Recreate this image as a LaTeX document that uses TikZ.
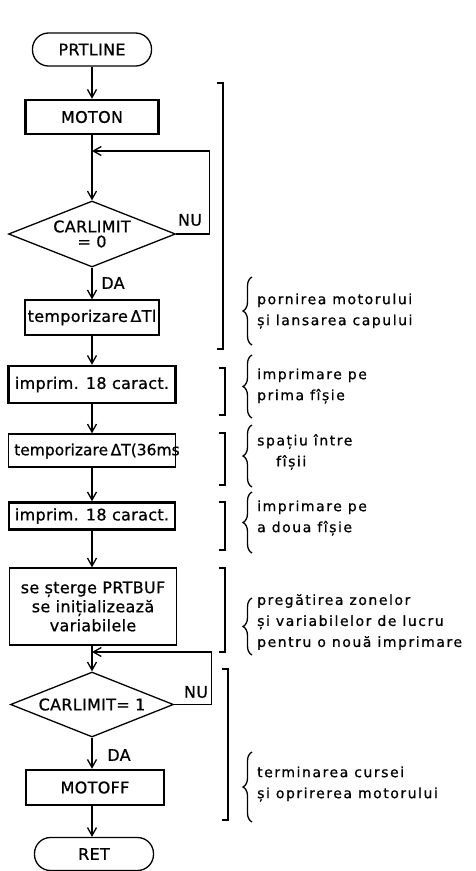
\documentclass[tikz,border=0pt]{standalone}
\usepackage{fontspec}
\setmainfont{DejaVu Sans}
\newfontfamily\boxfam[LetterSpace=2,FakeBold=0.8]{DejaVu Sans}
\newfontfamily\notefam[LetterSpace=11,FakeBold=0.8]{DejaVu Sans}
\newfontfamily\tightfam[FakeBold=0.8]{DejaVu Sans}
\usetikzlibrary{shapes.geometric,arrows.meta,decorations.pathreplacing}

\begin{document}
\begin{tikzpicture}[x=1pt,y=-1pt,
  every node/.style={inner sep=1pt},
  boxfont/.style={font=\boxfam\fontsize{16}{19}\selectfont},
  notefont/.style={font=\notefam\fontsize{14}{21}\selectfont},
  thinbox/.style={draw,line width=1.3pt,boxfont,align=center},
  thickbox/.style={draw,line width=2.5pt,boxfont,align=center},
  term/.style={draw,line width=1.3pt,rounded corners=16pt,boxfont,
    minimum width=119pt,minimum height=33pt},
  decision/.style={draw,diamond,aspect=2.5,line width=1.3pt,inner sep=0pt,
    boxfont,align=center},
  arr/.style={line width=1.3pt,-{Straight Barb[length=8pt,width=9pt,line width=1.3pt]}},
  bracket/.style={line width=2.4pt},
  curly/.style={line width=1.3pt,decorate,decoration={brace,amplitude=9pt}},
  note/.style={notefont,anchor=west,align=left}
]
\useasboundingbox (0,0) rectangle (476,871);

% ---------- flow chart ----------
\node[term] (prt) at (92,49.5) {PRTLINE};
\node[thickbox,minimum width=133pt,minimum height=34pt] (moton) at (92,117) {MOTON};
\coordinate (j1) at (92,151);
\node[decision,minimum width=167pt,minimum height=66pt] (d1) at (92,234) {CARLIMIT\\[-4pt]= 0};
\node[thinbox,minimum width=134pt,minimum height=35pt,inner sep=0pt] (t1) at (92,317.5) {temporizare\,ΔTl};
\node[thickbox,minimum width=167pt,minimum height=37pt] (im1) at (92,384.5) {imprim. 18 caract.};
\node[thinbox,minimum width=167pt,minimum height=33pt] (t2) at (92,450.5) {};
\node[font=\tightfam\fontsize{15.5}{19}\selectfont,anchor=west,inner sep=0pt] (t2txt) at (14,451)
  {temporizare\,ΔT(36ms};
\node[thickbox,minimum width=166pt,minimum height=27pt] (im2) at (92,516) {imprim. 18 caract.};
\node[thinbox,minimum width=167pt,minimum height=77pt] (ss) at (93,606.5)
  {se șterge PRTBUF\\se inițializează\\variabilele};
\coordinate (j2) at (92,652);
\node[decision,minimum width=163pt,minimum height=65pt] (d2) at (92,704.5) {CARLIMIT= 1};
\node[thickbox,minimum width=138pt,minimum height=35pt] (mo) at (95,787.5) {MOTOFF};
\node[term] (ret) at (94,854) {RET};

\draw[arr] (prt) -- (moton);
\draw[arr] (moton) -- (d1);
\draw[arr] (d1.east) -- ++(33,0) |- (j1);
\node[boxfont] (nu1) at (190,220) {NU};
\draw[arr] (d1) -- (t1);
\node[boxfont] (da1) at (113,283) {DA};
\draw[arr] (t1) -- (im1);
\draw[arr] (im1) -- (t2);
\draw[arr] (t2) -- (im2);
\draw[arr] (im2) -- (ss.north -| im2);
\draw[arr] (ss.south -| d2) -- (d2);
\draw[arr] (d2.east) -- ++(37,0) |- (j2);
\node[boxfont] (nu2) at (196,692) {NU};
\draw[arr] (d2) -- (d2 |- mo.north);
\node[boxfont] (da2) at (119,755) {DA};
\draw[arr] (d2 |- mo.south) -- (ret.north -| d2);

% ---------- square brackets grouping the steps ----------
\draw[bracket] (217,83) -- (223,83) -- (223,349) -- (217,349);
\draw[bracket] (219,368) -- (225,368) -- (225,415) -- (219,415);
\draw[bracket] (219,433) -- (225,433) -- (225,485) -- (219,485);
\draw[bracket] (219,502) -- (225,502) -- (225,550) -- (219,550);
\draw[bracket] (219,568) -- (225,568) -- (225,652) -- (219,652);
\draw[bracket] (222,669) -- (228,669) -- (228,820) -- (222,820);

% ---------- curly braces with the comments ----------
\draw[curly] (252,345) -- (252,277);
\node[note] (c1) at (256,311) {pornirea motorului\\și lansarea capului};
\draw[curly] (252,418) -- (252,355);
\node[note] (c2) at (256,386) {imprimare pe\\prima fîșie};
\draw[curly] (252,487) -- (252,425);
\node[note] (c3) at (256,452) {spațiu între\\\hspace*{19pt}fîșii};
\draw[curly] (252,553) -- (252,492);
\node[note] (c4) at (256,518) {imprimare pe\\a doua fîșie};
\draw[curly] (252,655) -- (252,598);
\node[note] (c5) at (256,622) {pregătirea zonelor\\și variabilelor de lucru\\pentru o nouă imprimare};
\draw[curly] (252,822) -- (252,752);
\node[note] (c6) at (256,784) {terminarea cursei\\și oprirerea motorului};
\end{tikzpicture}
\end{document}
